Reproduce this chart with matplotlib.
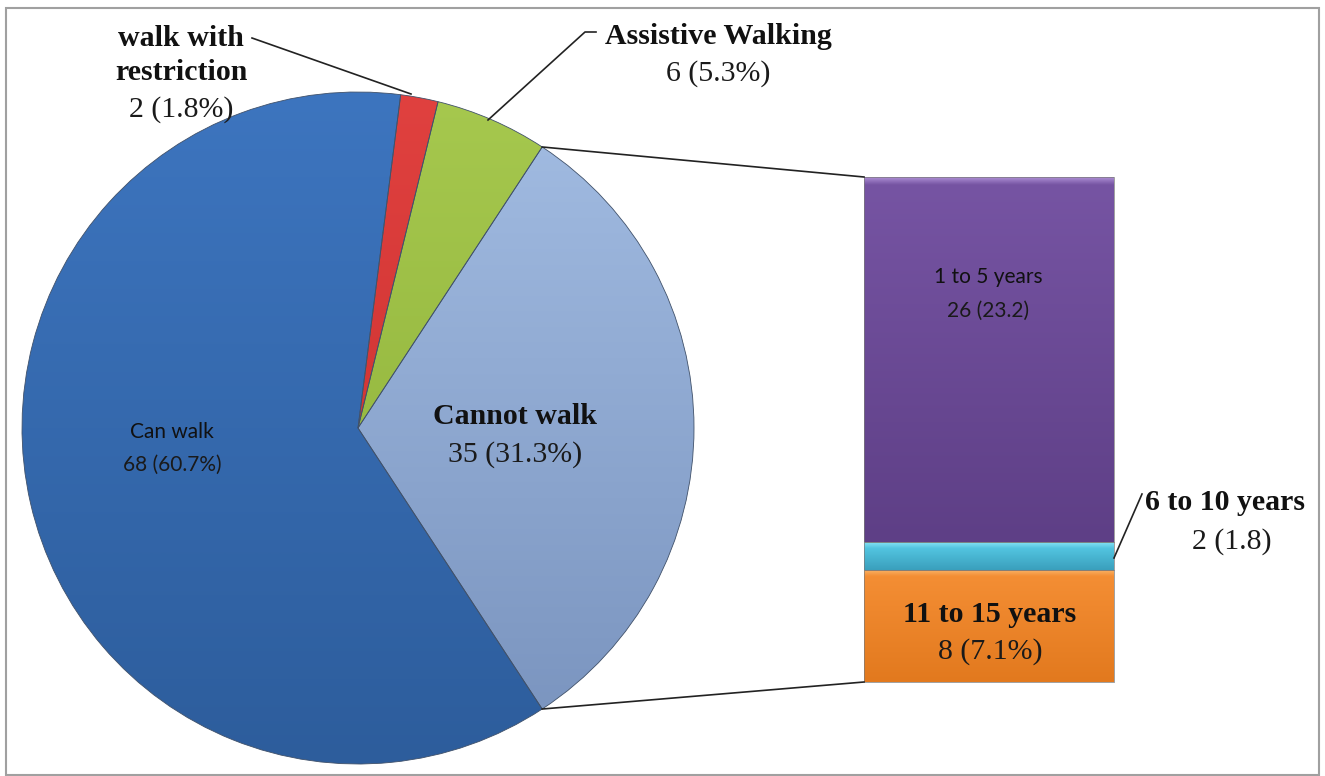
import matplotlib
matplotlib.use('Agg')
import matplotlib.pyplot as plt
import numpy as np
from matplotlib.colors import to_rgb
from matplotlib.patches import Rectangle

# pie: walking status (counterclockwise from the split slice)
pie_labels = ['Cannot walk', 'Assistive Walking', 'walk with\nrestriction', 'Can walk']
pie_values = [35, 6, 2, 68]
pie_pcts = ['31.3%', '5.3%', '1.8%', '60.7%']
pie_top = ['#a3bde3', '#a6c84e', '#e0413f', '#3d75bf']
pie_bot = ['#7892bd', '#8aad36', '#c42b2b', '#2d5d9c']

# bar: duration for those who cannot walk (bottom to top)
bar_labels = ['11 to 15 years', '6 to 10 years', '1 to 5 years']
bar_values = [8, 2, 26]
bar_pcts = ['7.1%', '1.8', '23.2']
bar_hi = ['#fbb66a', '#8ee8f8', '#a98ad0']
bar_top = ['#f48e34', '#52c4e0', '#7654a3']
bar_bot = ['#e2791e', '#3a9fbc', '#5e3f86']

W, H = 1325, 776
SERIF = 'Liberation Serif'
SANS = 'Lato'

fig = plt.figure(figsize=(W / 100, H / 100), dpi=100)
ax = fig.add_axes([0, 0, 1, 1])


def Y(y):
    return H - y


def shade(patch, stops, extent, z):
    # vertical gradient through (position, colour) stops, clipped to patch
    t = np.linspace(0, 1, 256)
    pos = [p for p, _ in stops]
    cols = np.array([to_rgb(c) for _, c in stops])
    img = np.stack([np.interp(t, pos, cols[:, k]) for k in range(3)], axis=-1)
    im = ax.imshow(img[:, None, :], extent=extent, origin='upper', aspect='auto',
                   interpolation='bilinear', zorder=z)
    im.set_clip_path(patch)


# pie
cx, cy, r = 358, Y(428), 336
start = -180 * pie_values[0] / sum(pie_values)
wedges, _ = ax.pie(pie_values, startangle=start, counterclock=True,
                   center=(cx, cy), radius=r, colors=pie_top,
                   wedgeprops=dict(edgecolor='#40516a', linewidth=0.6),
                   frame=True)
for w, t, b in zip(wedges, pie_top, pie_bot):
    w.set_zorder(3)
    w.set_facecolor('none')
    shade(w, [(0, t), (1, b)], (cx - r, cx + r, cy - r, cy + r), 2)

# bar of pie
bx0, bw, by0 = 864, 250, Y(682)
scale = 505 / sum(bar_values)
bottoms = by0 + scale * np.concatenate([[0], np.cumsum(bar_values)[:-1]])
bars = ax.bar([bx0 + bw / 2] * 3, np.array(bar_values) * scale, width=bw,
              bottom=bottoms, color=bar_top, edgecolor='#7a7a7a', linewidth=0.5,
              zorder=3)
for rect, hi, t, b in zip(bars, bar_hi, bar_top, bar_bot):
    rect.set_facecolor('none')
    x, y, h = rect.get_x(), rect.get_y(), rect.get_height()
    edge = min(0.35, 7 / h)
    shade(rect, [(0, hi), (edge, t), (1, b)], (x, x + rect.get_width(), y, y + h), 2)

# connector lines
w0 = wedges[0]
for ang, (px, py) in [(w0.theta2, (bx0, bottoms[2] + bar_values[2] * scale)),
                      (w0.theta1, (bx0, by0))]:
    a = np.deg2rad(ang)
    ax.plot([cx + r * np.cos(a), px], [cy + r * np.sin(a), py],
            color='#222222', lw=1.2, zorder=4)


# labels: bold/regular heading lines and a value line, one y per line
def label(x, ys, head, value, font, size, bold=True, vx=None):
    heads = head.split('\n')
    for line, y in zip(heads, ys):
        ax.text(x, Y(y), line, ha='center', va='center_baseline', family=font,
                fontsize=size, fontweight='bold' if bold else 'normal',
                color='#111111', zorder=5)
    ax.text(x if vx is None else vx, Y(ys[-1]), value, ha='center',
            va='center_baseline', family=font, fontsize=size, color='#1a1a1a',
            zorder=5)


vals = [f'{v} ({p})' for v, p in zip(pie_values, pie_pcts)]
label(515, [414, 451], pie_labels[0], vals[0], SERIF, 21.5)
label(718, [34, 70], pie_labels[1], vals[1], SERIF, 21.5)
label(181, [35, 70, 106], pie_labels[2], vals[2], SERIF, 21.5)
label(172, [430, 463], pie_labels[3], vals[3], SANS, 15, bold=False)

bvals = [f'{v} ({p})' for v, p in zip(bar_values, bar_pcts)]
label(990, [612, 648], bar_labels[0], bvals[0], SERIF, 21.5)
label(1225, [500, 538], bar_labels[1], bvals[1], SERIF, 21.5, vx=1232)
label(988, [275, 309], bar_labels[2], bvals[2], SANS, 15, bold=False)

# leader lines
ax.plot([252, 411], [Y(38), Y(94)], color='#222222', lw=1.2, zorder=4)
ax.plot([596, 585, 488], [Y(32), Y(32), Y(120)], color='#222222', lw=1.2, zorder=4)
ax.plot([1114, 1142], [Y(558), Y(494)], color='#222222', lw=1.2, zorder=4)

ax.add_patch(Rectangle((6, Y(775)), 1313, 767, fill=False,
                       edgecolor='#a0a0a0', lw=1.5, zorder=1))

ax.set_xlim(0, W)
ax.set_ylim(0, H)
ax.set_aspect('auto')
ax.axis('off')
fig.savefig('out.png', dpi=100)
